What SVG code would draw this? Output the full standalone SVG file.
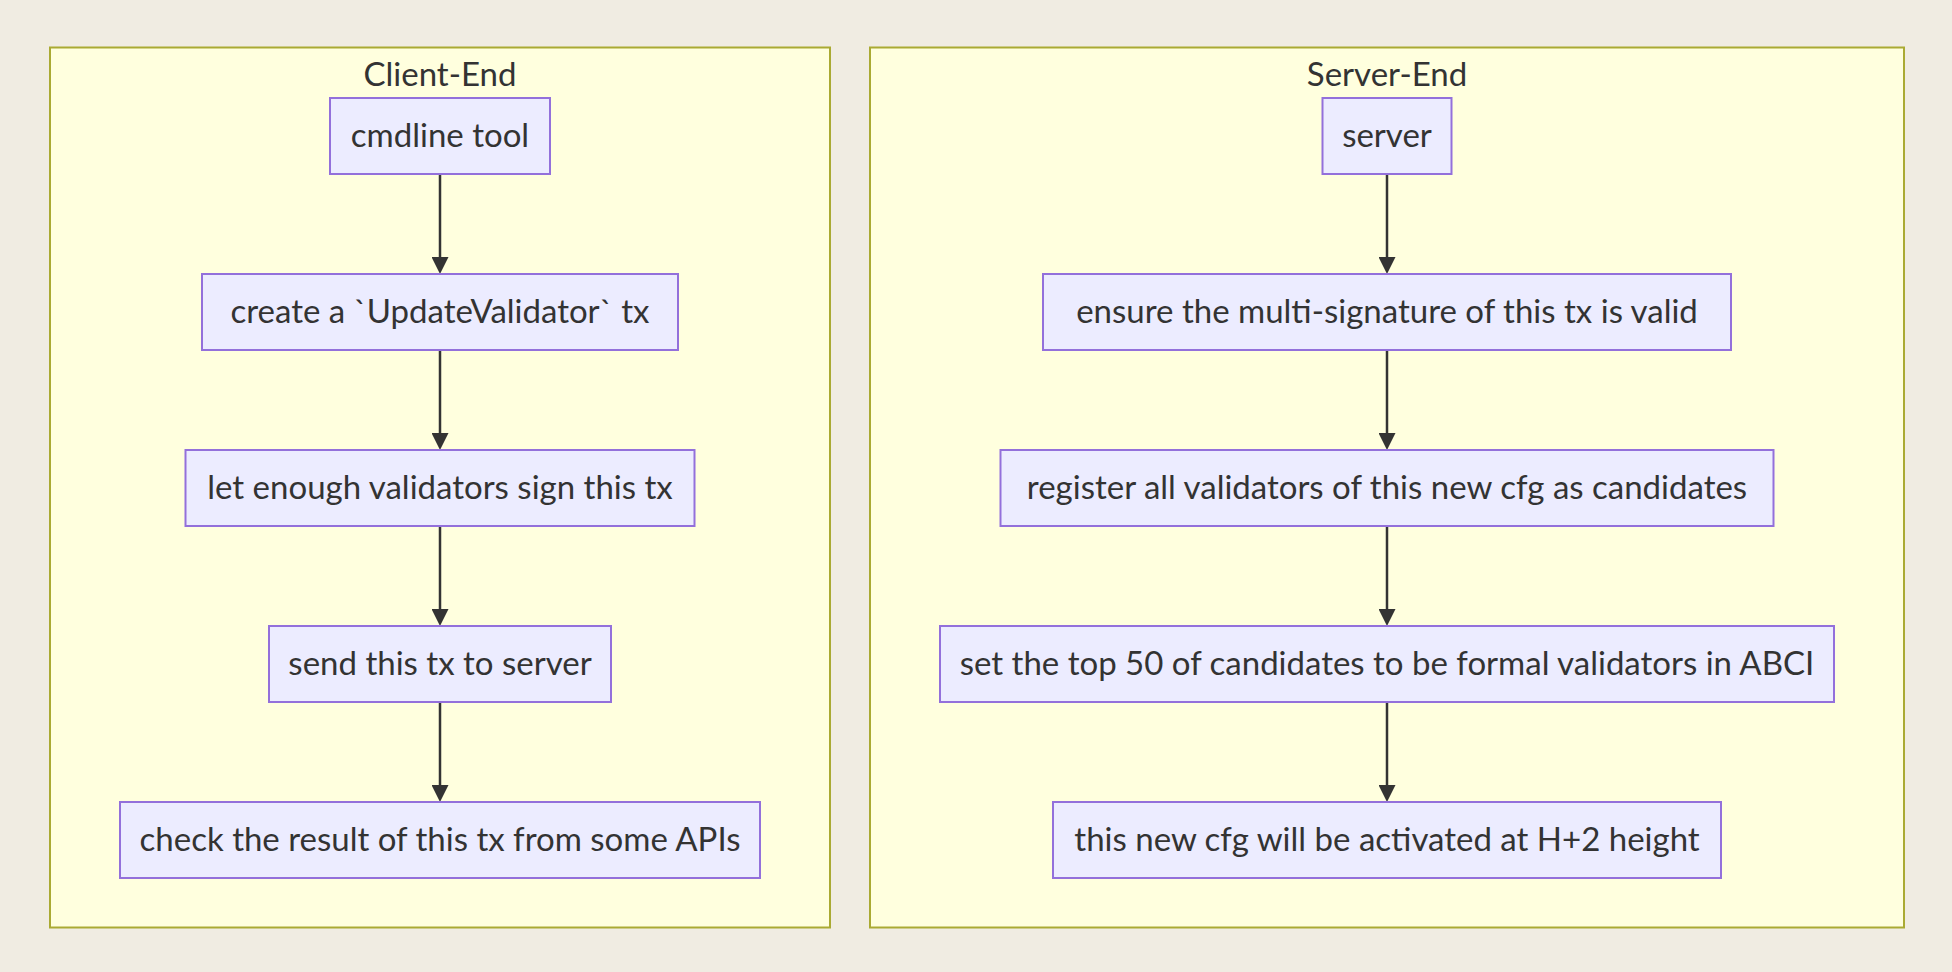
<svg xmlns="http://www.w3.org/2000/svg" width="1952" height="972" viewBox="0 0 1952 972">
  <style>
    .bg { fill: #f0ece2; }
    .cluster { fill: #ffffde; stroke: #aaaa33; stroke-width: 2; }
    .node rect { fill: #ececff; stroke: #9370db; stroke-width: 2; }
    .label { font-family: Lato, "Liberation Sans", sans-serif; font-size: 33px; fill: #333333; text-anchor: middle; }
    .edge { stroke: #333333; stroke-width: 2.5; fill: none; }
  </style>
  <defs>
    <marker id="arrow" viewBox="0 0 10 10" refX="0" refY="5" markerWidth="17" markerHeight="17" markerUnits="userSpaceOnUse" orient="auto">
      <path d="M0,0 L10,5 L0,10 z" fill="#333333"/>
    </marker>
  </defs>
  <rect class="bg" x="0" y="0" width="1952" height="972"/>

  <g id="cluster-client">
    <rect class="cluster" x="50" y="47.5" width="780" height="880"/>
    <text class="label" x="440" y="86">Client-End</text>
  </g>
  <g id="cluster-server">
    <rect class="cluster" x="870" y="47.5" width="1034" height="880"/>
    <text class="label" x="1387" y="86">Server-End</text>
  </g>

  <g id="connectors">
    <path class="edge" d="M440,175 L440,257" marker-end="url(#arrow)"/>
    <path class="edge" d="M440,351 L440,433" marker-end="url(#arrow)"/>
    <path class="edge" d="M440,527 L440,609" marker-end="url(#arrow)"/>
    <path class="edge" d="M440,703 L440,785" marker-end="url(#arrow)"/>
    <path class="edge" d="M1387,175 L1387,257" marker-end="url(#arrow)"/>
    <path class="edge" d="M1387,351 L1387,433" marker-end="url(#arrow)"/>
    <path class="edge" d="M1387,527 L1387,609" marker-end="url(#arrow)"/>
    <path class="edge" d="M1387,703 L1387,785" marker-end="url(#arrow)"/>
  </g>

  <g id="node-cmdline" class="node">
    <rect x="330" y="98" width="220" height="76"/>
    <text class="label" x="440" y="147">cmdline tool</text>
  </g>
  <g id="node-create" class="node">
    <rect x="202" y="274" width="476" height="76"/>
    <text class="label" x="440" y="323">create a `UpdateValidator` tx</text>
  </g>
  <g id="node-sign" class="node">
    <rect x="185.5" y="450" width="509" height="76"/>
    <text class="label" x="440" y="499">let enough validators sign this tx</text>
  </g>
  <g id="node-send" class="node">
    <rect x="269" y="626" width="342" height="76"/>
    <text class="label" x="440" y="675">send this tx to server</text>
  </g>
  <g id="node-check" class="node">
    <rect x="120" y="802" width="640" height="76"/>
    <text class="label" x="440" y="851">check the result of this tx from some APIs</text>
  </g>

  <g id="node-server" class="node">
    <rect x="1322.5" y="98" width="129" height="76"/>
    <text class="label" x="1387" y="147">server</text>
  </g>
  <g id="node-ensure" class="node">
    <rect x="1043" y="274" width="688" height="76"/>
    <text class="label" x="1387" y="323">ensure the multi-signature of this tx is valid</text>
  </g>
  <g id="node-register" class="node">
    <rect x="1000.5" y="450" width="773" height="76"/>
    <text class="label" x="1387" y="499">register all validators of this new cfg as candidates</text>
  </g>
  <g id="node-set" class="node">
    <rect x="940" y="626" width="894" height="76"/>
    <text class="label" x="1387" y="675">set the top 50 of candidates to be formal validators in ABCI</text>
  </g>
  <g id="node-activate" class="node">
    <rect x="1053" y="802" width="668" height="76"/>
    <text class="label" x="1387" y="851">this new cfg will be activated at H+2 height</text>
  </g>
</svg>
